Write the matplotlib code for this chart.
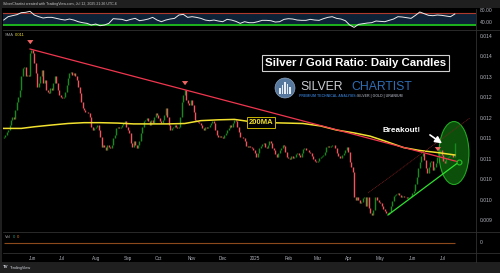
import matplotlib
matplotlib.use("Agg")
import matplotlib.pyplot as plt
from matplotlib.patches import Ellipse, Circle, Rectangle
from matplotlib.lines import Line2D
import numpy as np
import pandas as pd

plt.rcParams['font.family'] = ['Liberation Sans', 'DejaVu Sans']

# silver / gold ratio, daily closes 2024-05-06 .. 2025-07-11
first_open = 0.01150
close = [
    0.01154, 0.01158, 0.01166, 0.01170, 0.01182, 0.01195, 0.01201, 0.01196, 0.01219, 0.01239,
    0.01252, 0.01268, 0.01301, 0.01321, 0.01325, 0.01301, 0.01305, 0.01301, 0.01358, 0.01366,
    0.01358, 0.01333, 0.01309, 0.01276, 0.01284, 0.01301, 0.01317, 0.01284, 0.01292, 0.01268,
    0.01264, 0.01260, 0.01272, 0.01268, 0.01284, 0.01301, 0.01284, 0.01268, 0.01256, 0.01252,
    0.01248, 0.01252, 0.01264, 0.01280, 0.01297, 0.01309, 0.01313, 0.01305, 0.01309, 0.01301,
    0.01292, 0.01276, 0.01260, 0.01239, 0.01223, 0.01219, 0.01215, 0.01213, 0.01211, 0.01203,
    0.01178, 0.01170, 0.01174, 0.01178, 0.01182, 0.01170, 0.01154, 0.01129, 0.01133, 0.01129,
    0.01121, 0.01133, 0.01129, 0.01127, 0.01133, 0.01150, 0.01158, 0.01174, 0.01178, 0.01174,
    0.01178, 0.01182, 0.01186, 0.01191, 0.01178, 0.01170, 0.01162, 0.01138, 0.01129, 0.01142,
    0.01133, 0.01125, 0.01133, 0.01142, 0.01162, 0.01178, 0.01191, 0.01195, 0.01199, 0.01191,
    0.01182, 0.01195, 0.01186, 0.01203, 0.01211, 0.01207, 0.01199, 0.01191, 0.01186, 0.01195,
    0.01207, 0.01223, 0.01203, 0.01182, 0.01170, 0.01174, 0.01178, 0.01182, 0.01178, 0.01174,
    0.01178, 0.01203, 0.01239, 0.01256, 0.01268, 0.01244, 0.01235, 0.01231, 0.01244, 0.01231,
    0.01215, 0.01195, 0.01191, 0.01190, 0.01186, 0.01182, 0.01174, 0.01170, 0.01178, 0.01174,
    0.01178, 0.01182, 0.01186, 0.01191, 0.01186, 0.01170, 0.01158, 0.01154, 0.01155, 0.01152,
    0.01150, 0.01158, 0.01162, 0.01170, 0.01174, 0.01182, 0.01178, 0.01186, 0.01195, 0.01191,
    0.01178, 0.01166, 0.01154, 0.01152, 0.01150, 0.01142, 0.01131, 0.01129, 0.01130, 0.01128,
    0.01125, 0.01121, 0.01113, 0.01105, 0.01113, 0.01125, 0.01131, 0.01136, 0.01138, 0.01129,
    0.01125, 0.01133, 0.01142, 0.01138, 0.01125, 0.01120, 0.01111, 0.01105, 0.01113, 0.01120,
    0.01125, 0.01133, 0.01131, 0.01117, 0.01105, 0.01101, 0.01100, 0.01107, 0.01101, 0.01103,
    0.01111, 0.01113, 0.01109, 0.01105, 0.01113, 0.01123, 0.01125, 0.01121, 0.01122, 0.01117,
    0.01113, 0.01107, 0.01098, 0.01095, 0.01093, 0.01094, 0.01101, 0.01105, 0.01107, 0.01109,
    0.01117, 0.01128, 0.01131, 0.01129, 0.01130, 0.01133, 0.01134, 0.01125, 0.01113, 0.01107,
    0.01102, 0.01101, 0.01109, 0.01113, 0.01121, 0.01129, 0.01117, 0.01093, 0.01080, 0.01068,
    0.01007, 0.00999, 0.01007, 0.00999, 0.00991, 0.00995, 0.01003, 0.01007, 0.00983, 0.01007,
    0.00979, 0.00968, 0.00962, 0.00974, 0.01007, 0.01006, 0.00999, 0.00995, 0.00991, 0.00984,
    0.00976, 0.00973, 0.00966, 0.00965, 0.00970, 0.00983, 0.00997, 0.01009, 0.01011, 0.01014,
    0.01015, 0.01011, 0.01007, 0.01009, 0.01007, 0.01005, 0.01003, 0.01005, 0.01007, 0.01009,
    0.01015, 0.01022, 0.01038, 0.01056, 0.01076, 0.01093, 0.01107, 0.01113, 0.01097, 0.01076,
    0.01066, 0.01080, 0.01093, 0.01095, 0.01072, 0.01080, 0.01090, 0.01103, 0.01117, 0.01120,
    0.01109, 0.01095, 0.01089, 0.01101, 0.01105, 0.01107, 0.01108, 0.01111, 0.01105, 0.01138,
]

# 200-day SMA, read at a handful of bars
sma_bar = [0, 12, 21, 32, 44, 55, 66, 78, 89, 100, 112, 124, 135, 147, 158, 170, 182, 194,
           205, 217, 228, 240, 251, 262, 274, 285, 297, 309]
sma_val = [0.01174, 0.01174, 0.01178, 0.01182, 0.01186, 0.01188, 0.01188, 0.01187, 0.01185,
           0.01185, 0.01185, 0.01186, 0.01193, 0.01195, 0.01196, 0.01190, 0.01188, 0.01187,
           0.01186, 0.01180, 0.01170, 0.01163, 0.01155, 0.01142, 0.01127, 0.01120, 0.01115,
           0.01109]

# RSI, one reading every 3 bars
rsi_step = 3
rsi = [56.0, 67.4, 70.9, 74.3, 81.1, 82.3, 85.7, 73.1, 67.4, 62.9, 65.1, 65.1, 61.7, 58.3,
       56.0, 59.4, 56.0, 50.3, 46.9, 44.6, 38.9, 42.3, 36.6, 38.9, 44.6, 60.6, 59.4, 58.3,
       53.7, 58.3, 61.7, 53.7, 56.0, 59.4, 65.1, 56.0, 50.3, 56.0, 59.4, 61.7, 73.1, 75.4,
       65.1, 67.4, 65.1, 61.7, 56.0, 53.7, 56.0, 52.6, 50.3, 58.3, 56.0, 51.4, 44.6, 50.3,
       46.9, 46.9, 50.3, 54.9, 54.9, 53.7, 49.1, 50.3, 58.3, 60.6, 59.4, 56.0, 54.9, 54.9,
       58.3, 56.0, 54.9, 60.6, 65.1, 67.4, 61.7, 59.4, 53.7, 38.9, 30.9, 41.1, 43.4, 45.7,
       46.9, 52.6, 51.4, 50.3, 54.9, 59.4, 67.4, 66.3, 64.0, 61.7, 72.0, 83.4, 77.7, 72.0,
       70.9, 73.1, 72.0, 69.7, 67.4, 76.6]

# drawings on the chart (bar index, ratio)
down_trend = [(18.0, 0.013682), (311.8, 0.010918)]
up_trend = [(263.2, 0.009622), (311.8, 0.010918)]
channel_line = [(249.5, 0.010160), (319.4, 0.011994)]
peak_marks = [(18.2, 0.013731), (124.2, 0.012728), (297.4, 0.011114)]

price_ticks = [0.0140, 0.0135, 0.0130, 0.0125, 0.0120, 0.0115, 0.0110, 0.0105, 0.0100, 0.0095]
price_labels = ['0.014', '0.014', '0.013', '0.012', '0.012', '0.011', '0.011', '0.010',
                '0.010', '0.009']

W, H = 500, 273
GREEN = '#178a1e'
RED = '#f0545c'
GRID = '#303030'
TXT = '#b2b5be'

fig = plt.figure(figsize=(W / 100, H / 100), dpi=100)
fig.patch.set_facecolor('#1f1f1f')
fig.add_artist(Rectangle((2 / W, 11 / H), 498 / W, 254 / H, transform=fig.transFigure,
                         facecolor='black', edgecolor='none', zorder=-5))


def px_axes(x0, y0, x1, y1):
    ax = fig.add_axes([x0 / W, 1 - y1 / H, (x1 - x0) / W, (y1 - y0) / H])
    ax.set_facecolor('black')
    for s in ax.spines.values():
        s.set_visible(False)
    ax.yaxis.tick_right()
    ax.tick_params(axis='both', length=0, colors=TXT, labelsize=3.6, pad=2.5)
    ax.set_xticks([])
    ax.set_xlim(-0.5, 323.5)
    return ax


def ftext(x, y, s, **kw):
    fig.text(x / W, 1 - y / H, s, **kw)


n = len(close)
bars = np.arange(n)
dates = pd.bdate_range('2024-05-06', periods=n)

# ---- RSI panel
ax_r = px_axes(3, 9, 476, 30)
ax_r.set_ylim(21.9, 93.7)
ax_r.axhspan(40, 80, color='#0d2137', lw=0)
ax_r.axhline(80, color='#b0392e', lw=0.8)
ax_r.axhline(40, color='#1db31d', lw=1.4)
ax_r.plot(bars[::rsi_step][:len(rsi)], rsi, color='#ececec', lw=0.7)
ax_r.set_yticks([80, 40])
ax_r.set_yticklabels(['80.00', '40.00'])
for lab in ax_r.get_yticklabels():
    lab.set_va('bottom')

# ---- price panel
ax = px_axes(3, 30, 476, 232)
ax.set_ylim(0.009206, 0.014147)
ax.set_yticks(price_ticks)
ax.set_yticklabels(price_labels)

ax.add_patch(Ellipse((308.4, 0.011138), 20.5, 0.001541, facecolor='#0b4f0b',
                     edgecolor='#22a822', lw=0.8, zorder=1))

open_ = [first_open] + close[:-1]
lo = np.minimum(open_, close)
hi = np.maximum(open_, close)
cols = [GREEN if c >= o else RED for o, c in zip(open_, close)]
ax.vlines(bars, lo, hi, colors=cols, lw=1.0, zorder=3)

ax.plot(sma_bar, sma_val, color='#f2e12f', lw=1.1, zorder=4)

(x0, y0), (x1, y1) = down_trend
ax.plot([x0, x1], [y0, y1], color='#f0364f', lw=0.9, zorder=5)
(x0, y0), (x1, y1) = up_trend
ax.plot([x0, x1], [y0, y1], color='#2fe02f', lw=0.9, zorder=5)
(x0, y0), (x1, y1) = channel_line
ax.plot([x0, x1], [y0, y1], color='#8b1f1f', lw=0.5, ls=(0, (1.5, 1)), zorder=5)
ax.plot([up_trend[1][0]], [up_trend[1][1]], marker='o', ms=3.5, mfc='#0b4f0b',
        mec='#22c522', mew=0.8, zorder=6)

for bx, by in peak_marks:
    ax.annotate('', xy=(bx, by), xytext=(bx, by + 0.00017),
                arrowprops=dict(arrowstyle='simple,head_width=0.9,head_length=0.6,tail_width=0.45',
                                color='#f06464', lw=0, mutation_scale=5), zorder=7)

ax.text(176.2, 0.011884, '200MA', color='#f2e12f', fontsize=5.5, fontweight='bold',
        ha='center', va='center', zorder=8,
        bbox=dict(boxstyle='square,pad=0.25', facecolor='black', edgecolor='#c8b400', lw=0.7))

ax.text(272.8, 0.01170, 'Breakout!', color='white', fontsize=5.9, fontweight='bold',
        ha='center', va='center', zorder=8)
ax.annotate('', xy=(301.8, 0.011334), xytext=(290.4, 0.011620),
            arrowprops=dict(arrowstyle='-|>,head_length=0.5,head_width=0.25', color='white',
                            lw=1.2, mutation_scale=8), zorder=8)

# title box and logo
ax.text((355.5 - 3) / 473, (232 - 63) / 202, 'Silver / Gold Ratio: Daily Candles',
        transform=ax.transAxes, color='white', fontsize=8.2, fontweight='bold',
        ha='center', va='center', zorder=9,
        bbox=dict(boxstyle='square,pad=0.22', facecolor='black', edgecolor='#d0d0d0', lw=0.8))
ftext(300, 87, 'SILVER', color='#c9ccd1', fontsize=8.8, va='center', ha='left')
ftext(351, 87, 'CHARTIST', color='#2f6db5', fontsize=8.8, va='center', ha='left')
ftext(299, 96, 'PREMIUM TECHNICAL ANALYSIS:', color='#2f6db5', fontsize=2.5,
      fontweight='bold', va='center', ha='left')
ftext(357, 96, 'SILVER | GOLD | URANIUM', color='#8a8f98', fontsize=2.5,
      fontweight='bold', va='center', ha='left')
fig.add_artist(Circle((285 / 100, (H - 88) / 100), 0.10, transform=fig.dpi_scale_trans,
                      facecolor='#56789f', edgecolor='#9fb4cc', lw=0.4))
for k, hgt in enumerate([6, 9, 12, 10, 7]):
    fig.add_artist(Rectangle(((279 + 2.6 * k) / 100, (H - 94) / 100), 1.6 / 100, hgt / 100,
                             transform=fig.dpi_scale_trans, facecolor='#e6ecf3',
                             edgecolor='none'))

# ---- volume panel
ax_v = px_axes(3, 232, 476, 253)
ax_v.set_ylim(-1, 1)
ax_v.set_yticks([0])
ax_v.set_yticklabels(['0'])
ax_v.hlines(0, bars[0], bars[-1], color='#8c4a1c', lw=0.8)

month_start = [i for i in range(1, n) if dates[i].month != dates[i - 1].month]
month_lab = [str(dates[i].year) if dates[i].month == 1 else dates[i].strftime('%b')
             for i in month_start]
ax_v.set_xticks(month_start)
ax_v.set_xticklabels(month_lab)
ax_v.tick_params(axis='x', labelsize=3.3, pad=2.5)

# separators
for y in [30, 232, 253]:
    fig.add_artist(Line2D([3 / W, 1], [1 - y / H, 1 - y / H], transform=fig.transFigure,
                          color=GRID, lw=0.6))
fig.add_artist(Line2D([476 / W, 476 / W], [1 - 9 / H, 1 - 262 / H], transform=fig.transFigure,
                      color=GRID, lw=0.6))

# header / footer / legends
ftext(3, 4.5, 'SilverChartist created with TradingView.com, Jul 12, 2025 21:26 UTC-6',
      color='#c8c8c8', fontsize=2.6, va='center')
ftext(5, 35.5, 'SMA', color='#9a9a9a', fontsize=3.0, va='center')
ftext(15, 35.5, '0.011', color='#f2e12f', fontsize=3.0, va='center')
ftext(5, 237, 'Vol', color='#9a9a9a', fontsize=3.0, va='center')
ftext(13, 237, '0', color='#22a08c', fontsize=3.0, va='center')
ftext(17, 237, '0', color='#e07a1f', fontsize=3.0, va='center')
ftext(3, 267.5, 'TV', color='#d1d4dc', fontsize=3.2, fontweight='bold', va='center')
ftext(10, 267.5, 'TradingView', color='#d1d4dc', fontsize=2.8, va='center')

fig.savefig('out.png', dpi=100, facecolor=fig.get_facecolor())
